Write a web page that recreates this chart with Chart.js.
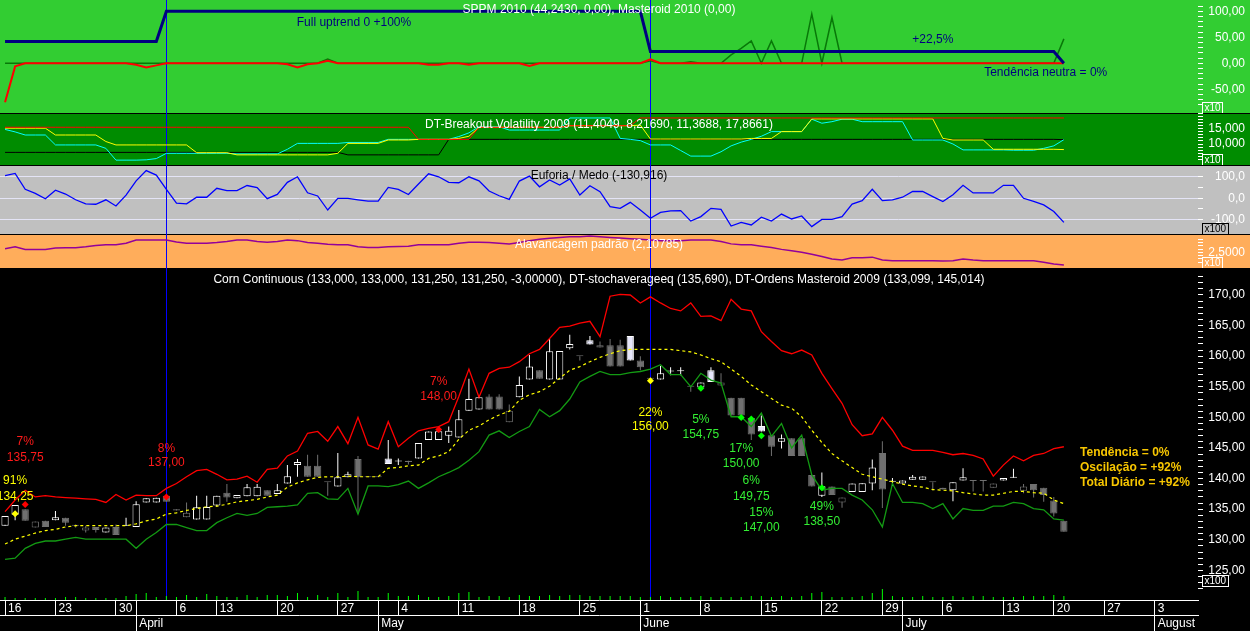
<!DOCTYPE html>
<html>
<head>
<meta charset="utf-8">
<title>Corn Continuous</title>
<script src="https://cdn.jsdelivr.net/npm/chart.js@4.4.1/dist/chart.umd.min.js"></script>
<style>
  html, body { margin: 0; padding: 0; background: #000; }
  body { width: 1250px; height: 631px; position: relative; overflow: hidden; }
  .pane { position: absolute; left: 0; width: 1250px; }
</style>
</head>
<body>
<div class="pane" style="top:0;height:113px"><canvas id="sppm" width="1250" height="113"></canvas></div>
<div class="pane" style="top:113px;height:52px"><canvas id="breakout" width="1250" height="52"></canvas></div>
<div class="pane" style="top:165px;height:69px"><canvas id="euforia" width="1250" height="69"></canvas></div>
<div class="pane" style="top:234px;height:34px"><canvas id="alav" width="1250" height="34"></canvas></div>
<div class="pane" style="top:268px;height:363px"><canvas id="price" width="1250" height="363"></canvas></div>
<script>
const FONT = '"Liberation Sans", Arial, sans-serif';

// ================= Corn Continuous daily bars =================
const open = [
  132.3, 134.1, 135.0, 132.0, 133.1, 133.2, 133.6, 132.3, 131.5, 132.1,
  131.2, 132.1, 132.3, 132.1, 136.1, 136.1, 137.2, 135.0, 133.7, 133.3,
  133.3, 135.6, 137.7, 136.8, 137.1, 137.1, 138.1, 137.5, 139.2, 142.2,
  142.1, 142.1, 139.4, 138.7, 140.2, 143.2, 140.2, 140.2, 143.3, 142.8,
  142.9, 143.3, 146.3, 146.3, 147.0, 146.7, 151.1, 151.3, 153.4, 153.4,
  149.2, 153.3, 156.2, 157.7, 156.2, 156.2, 161.3, 160.0, 162.6, 161.4,
  161.8, 161.8, 163.3, 159.3, 156.3, 156.2, 157.5, 157.55, 155.0, 154.9,
  157.7, 155.2, 153.2, 153.2, 149.9, 148.6, 147.1, 146.0, 146.6, 146.6,
  140.6, 137.2, 138.7, 136.1, 137.8, 137.8, 139.2, 144.2, 139.5, 139.2,
  139.8, 139.8, 139.4, 138.5, 138.1, 139.7, 139.6, 139.6, 138.5, 139.7,
  140.15, 138.0, 139.1, 138.5, 136.4, 133.1
];
const high = [
  133.9, 135.7, 135.0, 133.0, 133.1, 134.7, 133.6, 132.5, 132.3, 132.1,
  132.0, 132.5, 133.6, 136.3, 136.8, 136.85, 137.2, 135.0, 136.1, 137.2,
  137.2, 137.2, 139.1, 137.3, 139.1, 139.1, 138.1, 139.1, 142.2, 143.2,
  143.9, 143.9, 139.4, 144.2, 141.1, 143.7, 140.2, 140.2, 146.3, 143.3,
  142.9, 145.8, 147.7, 147.75, 148.5, 151.2, 156.3, 153.6, 153.8, 153.8,
  152.1, 156.7, 160.2, 157.7, 162.9, 160.85, 163.5, 160.0, 163.3, 162.4,
  162.8, 162.7, 163.3, 160.0, 156.3, 158.4, 158.2, 158.2, 155.0, 155.7,
  158.2, 157.2, 153.2, 153.2, 149.9, 150.3, 147.1, 147.2, 146.6, 146.6,
  140.6, 141.0, 138.7, 136.9, 139.2, 139.25, 143.1, 146.1, 140.1, 139.7,
  140.6, 140.35, 139.4, 138.5, 139.4, 141.7, 139.6, 139.6, 139.2, 140.1,
  141.6, 139.1, 139.1, 138.5, 137.0, 133.1
];
const low = [
  132.3, 133.2, 133.1, 132.0, 132.1, 133.2, 132.3, 132.0, 131.2, 131.2,
  131.2, 130.8, 132.3, 132.1, 136.1, 136.1, 136.2, 134.8, 133.7, 133.3,
  133.3, 135.4, 136.2, 136.8, 137.1, 137.1, 137.2, 137.5, 139.2, 140.3,
  140.3, 140.3, 137.2, 138.7, 140.2, 134.3, 140.2, 140.2, 142.4, 142.2,
  142.3, 143.3, 146.3, 146.3, 145.8, 146.7, 151.1, 151.3, 151.3, 151.3,
  149.2, 153.3, 156.2, 156.3, 156.2, 156.2, 161.1, 159.3, 161.9, 161.4,
  158.3, 158.3, 159.3, 157.7, 156.3, 156.2, 156.9, 156.9, 154.2, 154.9,
  155.8, 155.2, 150.3, 150.3, 146.3, 147.7, 143.7, 144.9, 143.7, 143.7,
  138.7, 137.0, 137.3, 135.25, 137.8, 137.8, 138.1, 135.2, 138.8, 139.2,
  139.8, 139.8, 138.1, 138.2, 136.3, 139.7, 137.9, 137.9, 138.5, 139.7,
  140.15, 137.6, 136.9, 136.2, 133.8, 131.3
];
const close = [
  133.9, 135.7, 133.1, 133.0, 132.1, 133.7, 132.8, 132.3, 132.0, 131.6,
  132.0, 130.8, 132.3, 135.8, 136.8, 136.85, 136.2, 134.8, 134.4, 135.3,
  135.35, 137.2, 136.9, 137.3, 138.6, 138.65, 137.2, 138.1, 140.4, 142.7,
  140.3, 140.3, 139.4, 140.2, 140.7, 140.2, 140.2, 140.2, 142.4, 142.8,
  142.7, 145.8, 147.7, 147.75, 147.8, 149.7, 153.0, 153.3, 151.3, 151.3,
  151.1, 155.3, 158.3, 156.3, 160.8, 160.85, 162.0, 160.0, 161.9, 161.8,
  158.3, 158.3, 159.3, 158.2, 156.3, 157.2, 157.5, 157.55, 155.0, 155.7,
  155.8, 155.7, 150.3, 150.3, 147.2, 147.7, 145.2, 146.6, 143.7, 143.7,
  138.7, 138.75, 137.3, 136.9, 139.2, 139.25, 141.8, 138.2, 139.5, 139.7,
  140.3, 140.35, 139.4, 138.2, 139.4, 140.2, 139.6, 139.6, 139.2, 140.1,
  140.15, 138.7, 138.1, 137.3, 134.3, 131.3
];
const volume = [
  3, 2, 2, 2, 2, 2, 3, 3, 2, 2,
  2, 2, 4, 6, 7, 3, 4, 3, 5, 3,
  6, 4, 3, 3, 5, 3, 5, 5, 4, 7,
  3, 5, 3, 7, 3, 9, 3, 3, 7, 4,
  4, 5, 3, 3, 4, 7, 8, 3, 4, 4,
  3, 5, 4, 4, 5, 4, 5, 5, 4, 4,
  4, 4, 4, 3, 3, 4, 3, 3, 3, 4,
  3, 3, 3, 3, 4, 4, 3, 4, 3, 4,
  7, 8, 3, 3, 3, 4, 7, 11, 4, 3,
  3, 4, 3, 3, 4, 3, 4, 4, 3, 3,
  3, 4, 4, 4, 5, 4
];

// DT-Ordens Masteroid bands and DT-stochaverageeq
const bandHigh = [
  134.6, 136.5, 138.1, 137.0, 137.2, 137.0, 136.9, 136.8, 136.7, 136.6,
  136.1, 137.4, 136.5, 137.3, 137.2, 137.2, 138.4, 139.2, 140.3, 141.3,
  141.5, 140.7, 139.8, 139.9, 140.4, 139.4, 141.5, 141.7, 143.7, 144.5,
  147.4, 147.7, 146.1, 148.5, 145.7, 150.0, 145.5, 144.8, 149.3, 145.2,
  146.6, 147.8, 148.2, 148.5, 149.3, 153.4, 157.9, 153.3, 157.2, 158.0,
  158.2, 159.1, 160.4, 161.1, 162.9, 164.7, 164.9, 165.4, 165.7, 163.2,
  169.8, 170.1, 170.0, 168.7, 169.7, 168.7, 167.8, 167.4, 168.7, 166.5,
  166.6, 165.8, 169.3, 167.7, 167.4, 164.0, 162.4, 160.9, 160.4, 161.0,
  160.2, 157.2, 154.7, 152.3, 148.8, 147.0, 147.3, 150.0, 147.9, 145.3,
  144.6, 144.6, 144.6, 144.3, 143.9, 144.1, 143.8, 143.2, 140.4, 142.2,
  143.7, 142.9, 143.8, 144.1, 144.9, 145.2
];
const bandLow = [
  126.8, 127.0, 128.6, 129.4, 129.8, 129.8, 130.1, 130.4, 130.1, 130.1,
  130.1, 130.1, 130.1, 128.6, 130.1, 131.2, 132.5, 132.5, 132.0, 131.5,
  131.5, 132.8, 133.6, 134.3, 134.0, 134.3, 135.3, 135.4, 135.5, 135.7,
  137.6, 137.7, 136.7, 136.6, 138.4, 134.2, 138.8, 138.8, 138.7, 139.0,
  139.6, 138.4, 139.3, 140.3, 141.0, 141.8, 143.0, 144.4, 147.1, 147.8,
  146.7, 147.7, 148.5, 151.3, 150.1, 151.1, 153.0, 155.8, 156.7, 157.5,
  157.0, 157.0, 157.3, 157.5, 157.9, 158.6, 157.0, 157.0, 155.0, 157.2,
  156.1, 155.6, 150.1, 150.1, 148.5, 150.7, 146.9, 149.0, 145.0, 147.1,
  140.6, 138.1, 138.4, 138.4, 137.3, 136.5, 134.9, 132.1, 139.2, 136.1,
  136.1, 135.9, 135.1, 135.9, 133.4, 135.1, 134.8, 134.8, 135.5, 135.5,
  136.1, 135.9, 135.1, 134.9, 133.4, 133.2
];
const stochAvg = [
  129.3, 130.1, 130.6, 131.1, 131.5, 131.7, 132.1, 132.3, 132.3, 132.3,
  132.3, 132.3, 132.3, 132.6, 133.1, 133.4, 134.2, 134.4, 134.8, 135.1,
  135.4, 135.5, 135.8, 136.2, 136.4, 136.6, 137.0, 137.3, 138.6, 139.3,
  139.8, 140.2, 140.3, 140.3, 140.4, 140.3, 140.3, 140.3, 141.7, 141.8,
  142.1, 142.2, 143.3, 143.7, 144.4, 146.4, 147.9, 148.6, 149.6, 150.4,
  151.0, 152.8, 153.7, 154.2, 155.1, 156.4, 157.7, 158.3, 159.1, 159.8,
  160.4, 160.9, 161.1, 161.1, 161.1, 161.1, 161.1, 160.9, 160.7, 160.2,
  159.6, 159.1, 157.9, 156.7, 155.3, 154.2, 153.1, 152.0, 151.5, 150.1,
  147.9, 145.9, 144.1, 142.9, 141.8, 140.7, 140.3, 139.9, 139.5, 139.1,
  138.8, 138.6, 138.2, 138.1, 138.0, 137.7, 137.5, 137.3, 137.3, 137.6,
  137.9, 137.9, 137.7, 137.6, 136.5, 135.9
];

// order signals
const sigBar = [1, 2, 16, 43, 64, 69, 73, 74, 75, 81];
const sigPrice = [134.25, 135.75, 137.00, 148.00, 156.00, 154.75, 150.00, 149.75, 147.00, 138.50];
const sigPct = ['91%', '7%', '8%', '7%', '22%', '5%', '17%', '6%', '15%', '49%'];
const sigType = ['y', 'r', 'r', 'r', 'y', 'g', 'g', 'g', 'g', 'g'];
const signalLines = [16, 64];

// ================= SPPM 2010 / Masteroid 2010 =================
const sppm = [
  42, 42, 42, 42, 42, 42, 42, 42, 42, 42,
  42, 42, 42, 42, 42, 42, 100, 100, 100, 100,
  100, 100, 100, 100, 100, 100, 100, 100, 100, 100,
  100, 100, 100, 100, 100, 100, 100, 100, 100, 100,
  100, 100, 100, 100, 100, 100, 100, 100, 100, 100,
  100, 100, 100, 100, 100, 100, 100, 100, 100, 100,
  100, 100, 100, 100, 22.5, 22.5, 22.5, 22.5, 22.5, 22.5,
  22.5, 22.5, 22.5, 22.5, 22.5, 22.5, 22.5, 22.5, 22.5, 22.5,
  22.5, 22.5, 22.5, 22.5, 22.5, 22.5, 22.5, 22.5, 22.5, 22.5,
  22.5, 22.5, 22.5, 22.5, 22.5, 22.5, 22.5, 22.5, 22.5, 22.5,
  22.5, 22.5, 22.5, 22.5, 22.5, 0
];
const mastRed = [
  -75, -6, 0, 0, 0, 0, 0, 0, 0, 0,
  0, 0, 0, -3, -8, -4, 0, 0, 0, 0,
  0, 0, 0, 0, 0, 0, 0, 0, -2, -8,
  -2, 0, 5, 0, 0, 0, 0, 0, 0, 0,
  0, 0, -3, -3, 0, 0, -3, 0, 0, 0,
  0, 0, -5, 0, 0, 0, 0, 0, 0, 0,
  0, 0, 0, 0, 7.6, 0, 0, 0, 0, 0,
  0, 0, 0, 0, 0, 0, 0, 0, 0, 0,
  0, 0, 0, 0, 0, 0, 0, 0, 0, 0,
  0, 0, 0, 0, 0, 0, 0, 0, 0, 0,
  0, 0, 0, 0, 0, 0
];
const mastGreen = [
  0, 0, 0, 0, 0, 0, 0, 0, 0, 0,
  0, 0, 0, 0, 0, 0, 0, 0, 0, 0,
  0, 0, 0, 0, 0, 0, 0, 0, 0, 0,
  0, 0, 8, 0, 0, 0, 0, 0, 0, 0,
  0, 0, 0, 0, 0, 0, 0, 0, 0, 0,
  0, 0, 0, 0, 0, 0, 0, 0, 0, 0,
  0, 0, 0, 0, 5, 0, 0, 0, 3, 0,
  0, 0, 16, 28.5, 43, 0, 43, 0, 0, 0,
  95, 0, 88, 0, 0, 0, 0, 0, 0, 0,
  0, 0, 0, 0, 0, 0, 0, 0, 0, 0,
  0, 0, 0, 0, 0, 47
];

// ================= DT-Breakout Volatility 2009 =================
const bvRed = [
  15.4, 15.4, 15.4, 15.4, 15.4, 15.4, 15.4, 15.4, 15.4, 15.4,
  15.4, 15.4, 15.4, 15.4, 15.4, 15.4, 15.4, 15.4, 15.4, 15.4,
  15.4, 15.4, 15.4, 15.4, 15.4, 15.4, 15.4, 15.4, 15.4, 15.4,
  15.4, 15.4, 15.4, 15.4, 15.4, 15.4, 15.4, 15.4, 15.4, 15.4,
  15.4, 11.5, 11.5, 11.5, 11.5, 11.5, 11.5, 15.4, 15.4, 15.4,
  15.4, 15.4, 15.4, 15.4, 15.4, 15.4, 15.9, 15.9, 15.9, 15.9,
  15.9, 15.9, 15.9, 18.4, 18.4, 18.4, 18.4, 18.4, 18.4, 18.4,
  18.4, 18.4, 18.4, 18.4, 18.4, 18.4, 18.4, 18.4, 18.4, 18.4,
  18.4, 18.4, 18.4, 18.4, 18.4, 18.4, 18.4, 18.4, 18.4, 18.4,
  18.4, 18.4, 18.4, 18.4, 18.4, 18.4, 18.4, 18.4, 18.4, 18.4,
  18.4, 18.4, 18.4, 18.4, 18.4, 18.4
];
const bvBlack = [
  7.3, 7.3, 7.3, 7.3, 7.3, 7.3, 7.3, 7.3, 7.3, 7.3,
  7.3, 7.3, 7.3, 7.3, 7.3, 7.3, 7.3, 7.3, 7.3, 7.3,
  7.3, 7.3, 7.3, 7.3, 7.3, 7.3, 7.3, 7.3, 7.3, 7.3,
  7.3, 7.3, 7.3, 7.3, 6.5, 6.5, 6.5, 6.5, 6.5, 6.5,
  6.5, 6.5, 6.5, 6.5, 11.5, 11.5, 11.5, 11.5, 11.5, 11.5,
  11.5, 11.5, 11.5, 11.5, 11.5, 11.5, 11.5, 11.5, 11.5, 11.5,
  11.5, 11.5, 11.5, 11.5, 11.5, 11.5, 11.5, 11.5, 11.5, 11.5,
  11.5, 11.5, 11.5, 11.5, 11.5, 11.5, 11.5, 11.5, 11.5, 11.5,
  11.5, 11.5, 11.5, 11.5, 11.5, 11.5, 11.5, 11.5, 11.5, 11.5,
  11.5, 11.5, 11.5, 11.5, 11.5, 11.5, 11.5, 11.5, 11.5, 11.5,
  11.5, 11.5, 11.5, 11.5, 11.5, 11.4
];
const bvYellow = [
  15.1, 15.1, 15.1, 15.1, 15.1, 12.9, 12.9, 12.9, 12.9, 12.9,
  10.8, 9.7, 9.7, 9.7, 9.7, 9.7, 9.7, 9.7, 9.7, 7.2,
  7.2, 7.2, 7.2, 6.5, 6.5, 6.5, 6.5, 6.5, 6.5, 6.5,
  6.5, 6.5, 6.5, 7.0, 10.2, 10.2, 10.2, 10.2, 11.3, 11.3,
  11.3, 11.5, 11.5, 11.5, 11.5, 11.8, 12.5, 15.4, 15.4, 15.4,
  15.4, 15.4, 15.4, 15.4, 15.4, 15.4, 15.9, 15.9, 15.9, 15.9,
  15.9, 15.9, 15.9, 16.1, 11.6, 11.6, 11.6, 11.6, 11.6, 11.6,
  11.6, 11.6, 11.6, 11.6, 11.8, 11.8, 11.8, 14.0, 14.0, 14.0,
  18.1, 18.1, 18.1, 18.1, 18.1, 18.1, 18.1, 18.1, 18.1, 18.1,
  18.1, 18.1, 18.1, 11.8, 11.3, 11.3, 11.3, 11.3, 8.3, 8.3,
  8.3, 8.3, 8.3, 8.3, 8.3, 8.2
];
const bvCyan = [
  14.7, 13.9, 12.9, 12.9, 12.9, 9.7, 9.7, 9.7, 9.7, 9.7,
  8.6, 4.8, 4.8, 4.8, 4.9, 5.3, 7.0, 7.0, 7.0, 7.0,
  7.0, 7.0, 7.0, 6.8, 6.8, 6.8, 6.8, 6.8, 8.3, 10.2,
  10.2, 10.2, 10.2, 10.2, 10.5, 10.5, 10.5, 10.5, 11.5, 11.5,
  11.5, 11.5, 11.5, 11.5, 11.5, 12.4, 13.6, 15.6, 15.6, 15.6,
  14.5, 14.5, 14.5, 14.5, 14.5, 14.5, 18.4, 18.4, 18.4, 18.4,
  18.4, 11.8, 11.5, 11.1, 9.7, 9.7, 9.7, 7.9, 6.1, 6.1,
  6.1, 7.5, 9.4, 10.6, 11.5, 12.5, 14.0, 14.0, 14.0, 14.0,
  18.0, 16.7, 17.2, 18.0, 18.0, 17.2, 17.2, 17.2, 17.2, 17.2,
  11.3, 11.3, 11.3, 11.3, 10.0, 8.1, 8.1, 8.1, 8.1, 8.1,
  8.0, 8.0, 8.0, 8.6, 9.4, 11.4
];

// ================= Euforia / Medo =================
const euforia = [
  106, 117, 42, 23, -2, 38, 20, -7, -26, -28,
  -7, -36, 15, 82, 130, 109, 42, -23, -26, 5,
  5, 47, 36, 36, 60, 50, -2, 18, 75, 101,
  26, 11, -55, 0, 0, -7, -13, -13, 51, 42,
  18, 67, 115, 101, 75, 73, 101, 82, 34, 12,
  -5, 81, 104, 54, 86, 62, 91, 15, 59, 31,
  -39, -47, -19, -55, -94, -66, -59, -58, -107, -86,
  -47, -52, -130, -113, -125, -89, -107, -74, -97, -83,
  -133, -99, -99, -86, -27, -11, 42, -11, -7, 5,
  32, 32, 8, -15, 17, 61, 25, 25, 25, 61,
  61, 0, -15, -31, -62, -113
];

// ================= Alavancagem padrão =================
const alav = [
  2.61, 2.67, 2.59, 2.59, 2.59, 2.63, 2.64, 2.64, 2.67, 2.71,
  2.73, 2.73, 2.78, 2.88, 2.88, 2.88, 2.88, 2.82, 2.78, 2.78,
  2.78, 2.80, 2.83, 2.88, 2.88, 2.83, 2.81, 2.83, 2.88, 2.86,
  2.80, 2.78, 2.75, 2.73, 2.73, 2.67, 2.65, 2.65, 2.67, 2.68,
  2.69, 2.73, 2.73, 2.73, 2.73, 2.78, 2.81, 2.81, 2.80, 2.78,
  2.76, 2.80, 2.86, 2.90, 2.93, 2.96, 2.98, 2.98, 3.00, 2.98,
  2.96, 2.94, 2.92, 2.90, 2.88, 2.86, 2.86, 2.86, 2.88, 2.88,
  2.88, 2.83, 2.76, 2.73, 2.73, 2.69, 2.65, 2.59, 2.55, 2.50,
  2.44, 2.37, 2.29, 2.26, 2.33, 2.33, 2.35, 2.26, 2.24, 2.24,
  2.24, 2.24, 2.24, 2.23, 2.24, 2.29, 2.26, 2.24, 2.24, 2.24,
  2.24, 2.24, 2.24, 2.19, 2.14, 2.11
];

// ================= axis labels =================
const dayBars = [0, 5, 11, 17, 21, 27, 33, 39, 45, 51, 57, 63, 69, 75, 81, 87, 93, 99, 104, 109, 114];
const dayLabels = ['16', '23', '30', '6', '13', '20', '27', '4', '11', '18', '25', '1', '8', '15', '22', '29', '6', '13', '20', '27', '3'];
const monthBars = [13, 37, 63, 89, 114];
const monthLabels = ['April', 'May', 'June', 'July', 'August'];
const sppmTicks = [100, 50, 0, -50];
const bvTicks = [15, 10];
const euforiaTicks = [100, 0, -100];
const alavTicks = [2.5];
const priceTicks = [170, 165, 160, 155, 150, 145, 140, 135, 130, 125];

// ================= helpers =================
const X_MIN = -0.5, X_MAX = 118.3;
const fmt = (v, d) => v.toFixed(d).replace('.', ',');
const near = (a, b) => Math.abs(a - b) < 1e-6;
const pts = arr => arr.map((v, i) => ({ x: i, y: v }));
const noPad = s => { s.paddingTop = 0; s.paddingBottom = 0; s.paddingLeft = 0; s.paddingRight = 0; };

Chart.defaults.font.family = FONT;
Chart.defaults.font.size = 12;
Chart.defaults.animation = false;
Chart.defaults.responsive = false;
Chart.defaults.events = [];
Chart.defaults.layout.autoPadding = false;
Chart.defaults.layout.padding = { top: 0, left: 0, bottom: 0, right: 5 };
Chart.defaults.plugins.legend.display = false;
Chart.defaults.plugins.tooltip.enabled = false;
Chart.defaults.elements.point.radius = 0;
Chart.defaults.elements.line.tension = 0;

function lineDs(data, color, width, extra) {
  return Object.assign({ type: 'line', data: pts(data), borderColor: color, borderWidth: width, pointRadius: 0, fill: false }, extra || {});
}

function hiddenX() {
  return { type: 'linear', min: X_MIN, max: X_MAX, display: false };
}

function yAxis(min, max, step, labels, dec, gridColor) {
  return {
    position: 'right', min: min, max: max,
    afterFit: s => { s.width = 47; noPad(s); },
    afterBuildTicks: s => { s.ticks = s.ticks.filter(t => near(t.value / step, Math.round(t.value / step))); },
    ticks: {
      stepSize: step, autoSkip: false, color: '#fff', padding: 1, crossAlign: 'far',
      callback: v => labels.some(l => near(l, v)) ? fmt(v, dec) : ''
    },
    grid: {
      drawOnChartArea: !!gridColor, drawTicks: true, tickLength: 5, tickColor: '#fff', tickWidth: 1,
      color: c => (gridColor && c.tick && labels.some(l => near(l, c.tick.value))) ? gridColor : 'rgba(0,0,0,0)'
    },
    border: { display: false }
  };
}

// ================= plugins =================
const panelBg = {
  id: 'panelBg',
  beforeDraw(chart, args, o) {
    const { ctx, width, height } = chart;
    ctx.save();
    ctx.fillStyle = o.color;
    ctx.fillRect(0, 0, width, height);
    if (o.topLine) { ctx.fillStyle = '#000'; ctx.fillRect(0, 0, width, 1); }
    ctx.restore();
  }
};

const markerLines = {
  id: 'markerLines',
  beforeDatasetsDraw(chart) {
    const { ctx, chartArea: a, scales: { x } } = chart;
    ctx.save();
    ctx.strokeStyle = '#0000ff';
    ctx.lineWidth = 1;
    signalLines.forEach(b => {
      const px = Math.round(x.getPixelForValue(b)) + 0.5;
      ctx.beginPath(); ctx.moveTo(px, a.top); ctx.lineTo(px, a.bottom); ctx.stroke();
    });
    ctx.restore();
  }
};

const panelText = {
  id: 'panelText',
  afterDraw(chart, args, o) {
    const { ctx, chartArea: a, scales } = chart;
    ctx.save();
    ctx.textBaseline = 'middle';
    ctx.font = '12px ' + FONT;
    ctx.textAlign = 'center';
    ctx.fillStyle = o.titleColor;
    ctx.fillText(o.title, (a.left + a.right) / 2, a.top + o.titleY);
    (o.notes || []).forEach(n => {
      ctx.font = (n.bold ? 'bold ' : '') + '12px ' + FONT;
      ctx.textAlign = n.align || 'center';
      ctx.fillStyle = n.color;
      ctx.fillText(n.text, scales.x.getPixelForValue(n.bar), scales.y.getPixelForValue(n.value));
    });
    // multiplier box at the foot of the value axis
    ctx.font = '10px ' + FONT;
    const w = Math.round(ctx.measureText(o.mult).width) + 4, h = 11;
    const bx = a.right + 4, by = a.bottom - o.multUp - h;
    ctx.strokeStyle = o.multColor;
    ctx.fillStyle = o.multColor;
    ctx.lineWidth = 1;
    ctx.strokeRect(bx + 0.5, by + 0.5, w, h);
    ctx.textAlign = 'left';
    ctx.fillText(o.mult, bx + 2.5, by + h / 2 + 1);
    ctx.restore();
  }
};

const sigColor = { y: '#ffff00', r: '#ff0000', g: '#00ff00' };
const sigTextColor = { y: '#ffff00', r: '#ff1a1a', g: '#33ee33' };
const labelShift = [[-33, -17], [-63, -47], [-48, -34], [-48, -33], [32, 46], [31, 46], [31, 46], [62, 78], [77, 92], [19, 34]];

const signalText = {
  id: 'signalText',
  afterDatasetsDraw(chart) {
    const { ctx, scales: { x, y } } = chart;
    ctx.save();
    ctx.font = '12px ' + FONT;
    ctx.textAlign = 'center';
    ctx.textBaseline = 'middle';
    sigBar.forEach((b, k) => {
      const px = x.getPixelForValue(b), py = y.getPixelForValue(sigPrice[k]);
      ctx.fillStyle = sigTextColor[sigType[k]];
      ctx.fillText(sigPct[k], px, py + labelShift[k][0]);
      ctx.fillText(fmt(sigPrice[k], 2), px, py + labelShift[k][1]);
    });
    ctx.restore();
  }
};

// ================= SPPM panel =================
new Chart(document.getElementById('sppm'), {
  type: 'line',
  data: { datasets: [
    lineDs(sppm, '#000080', 3, { order: 0 }),
    lineDs(mastRed, '#ff0000', 2, { order: 1 }),
    lineDs(mastGreen, '#087808', 1.5, { order: 2 })
  ] },
  options: {
    scales: { x: hiddenX(), y: yAxis(-95.6, 121.7, 10, sppmTicks, 2) },
    plugins: {
      panelBg: { color: '#32cd32', topLine: false },
      panelText: {
        title: 'SPPM 2010 (44,2430, 0,00), Masteroid 2010 (0,00)', titleColor: '#fff', titleY: 10,
        mult: 'x10', multColor: '#fff', multUp: 0,
        notes: [
          { text: 'Full uptrend 0 +100%', bar: 34.6, value: 78, color: '#000080' },
          { text: '+22,5%', bar: 92, value: 44.8, color: '#000080' },
          { text: 'Tendência neutra = 0%', bar: 103.2, value: -18.7, color: '#000080' }
        ]
      }
    }
  },
  plugins: [panelBg, markerLines, panelText]
});

// ================= Breakout volatility panel =================
new Chart(document.getElementById('breakout'), {
  type: 'line',
  data: { datasets: [
    lineDs(bvRed, '#ff0000', 1, { order: 0 }),
    lineDs(bvYellow, '#ffff00', 1, { order: 1 }),
    lineDs(bvCyan, '#00ffff', 1, { order: 2 }),
    lineDs(bvBlack, '#000000', 1, { order: 3 })
  ] },
  options: {
    scales: { x: hiddenX(), y: yAxis(3.23, 20.0, 1, bvTicks, 3) },
    plugins: {
      panelBg: { color: '#008c00', topLine: true },
      panelText: {
        title: 'DT-Breakout Volatility 2009 (11,4049, 8,21690, 11,3688, 17,8661)', titleColor: '#fff', titleY: 11.7,
        mult: 'x10', multColor: '#fff', multUp: 0
      }
    }
  },
  plugins: [panelBg, markerLines, panelText]
});

// ================= Euforia / Medo panel =================
new Chart(document.getElementById('euforia'), {
  type: 'line',
  data: { datasets: [ lineDs(euforia, '#0000ff', 1.3) ] },
  options: {
    scales: { x: hiddenX(), y: yAxis(-167.6, 156.3, 50, euforiaTicks, 1, '#e4e4f6') },
    plugins: {
      panelBg: { color: '#c0c0c0', topLine: true },
      panelText: {
        title: 'Euforia / Medo (-130,916)', titleColor: '#000', titleY: 10.7,
        mult: 'x100', multColor: '#000', multUp: 0
      }
    }
  },
  plugins: [panelBg, markerLines, panelText]
});

// ================= Alavancagem panel =================
new Chart(document.getElementById('alav'), {
  type: 'line',
  data: { datasets: [ lineDs(alav, '#93009a', 1.5) ] },
  options: {
    scales: { x: hiddenX(), y: yAxis(2.015, 3.065, 0.1, alavTicks, 4) },
    plugins: {
      panelBg: { color: '#ffad5b', topLine: true },
      panelText: {
        title: 'Alavancagem padrão (2,10785)', titleColor: '#fff', titleY: 11,
        mult: 'x10', multColor: '#fff', multUp: 0
      }
    }
  },
  plugins: [panelBg, markerLines, panelText]
});

// ================= Price panel =================
const idx = close.map((_, i) => i);
const upDay = idx.map(i => i === 0 || close[i] > close[i - 1]);
const candleCol = idx.map(i => upDay[i] ? '#ffffff' : '#707070');
const bodyFill = idx.map(i => close[i] > open[i] ? '#000000' : (upDay[i] ? '#e6e6fa' : '#707070'));
const sepBars = [...new Set(dayBars.concat(monthBars))].sort((a, b) => a - b);

new Chart(document.getElementById('price'), {
  type: 'line',
  data: { datasets: [
    { type: 'line', data: sigBar.map((b, k) => ({ x: b, y: sigPrice[k] })), showLine: false,
      pointStyle: 'rectRot', pointRadius: 3.5, pointBorderWidth: 0,
      pointBackgroundColor: sigType.map(t => sigColor[t]), pointBorderColor: sigType.map(t => sigColor[t]), order: 0 },
    lineDs(stochAvg, '#ffff00', 1.2, { borderDash: [3, 3], order: 1 }),
    lineDs(bandLow, '#139a13', 1.3, { order: 2 }),
    lineDs(bandHigh, '#ff0000', 1.3, { order: 3 }),
    { type: 'bar', data: idx.map(i => ({ x: i, y: [Math.min(open[i], close[i]), Math.max(open[i], close[i])] })),
      backgroundColor: bodyFill, borderColor: candleCol, borderWidth: 1, borderSkipped: false,
      grouped: false, barPercentage: 0.72, categoryPercentage: 1, minBarLength: 1, order: 4 },
    { type: 'bar', data: idx.map(i => ({ x: i, y: [low[i], high[i]] })),
      backgroundColor: candleCol, borderWidth: 0, grouped: false, maxBarThickness: 1, order: 5 },
    { type: 'bar', yAxisID: 'yv', data: pts(volume), backgroundColor: '#00ff00', borderWidth: 0,
      grouped: false, maxBarThickness: 1, order: 6 }
  ] },
  options: {
    scales: {
      x: {
        type: 'linear', min: X_MIN, max: X_MAX, offset: false, position: 'bottom', weight: 0,
        afterBuildTicks: s => { s.ticks = sepBars.map(v => ({ value: v })); },
        afterFit: s => { s.height = 15; noPad(s); },
        ticks: {
          autoSkip: false, maxRotation: 0, minRotation: 0, align: 'start', labelOffset: 3, padding: -14, color: '#fff',
          callback: v => { const k = dayBars.indexOf(v); return k < 0 ? '' : dayLabels[k]; }
        },
        grid: { drawOnChartArea: false, drawTicks: true, tickLength: 15, tickColor: '#fff', offset: false },
        border: { display: true, color: '#fff' }
      },
      x2: {
        type: 'linear', axis: 'x', min: X_MIN, max: X_MAX, offset: false, position: 'bottom', weight: 1,
        afterBuildTicks: s => { s.ticks = monthBars.map(v => ({ value: v })); },
        afterFit: s => { s.height = 16; noPad(s); },
        ticks: {
          autoSkip: false, maxRotation: 0, minRotation: 0, align: 'start', labelOffset: 3, padding: -15, color: '#fff',
          callback: v => { const k = monthBars.indexOf(v); return k < 0 ? '' : monthLabels[k]; }
        },
        grid: { drawOnChartArea: false, drawTicks: true, tickLength: 16, tickColor: '#fff', offset: false },
        border: { display: true, color: '#fff' }
      },
      y: yAxis(120.16, 174.41, 1, priceTicks, 2),
      yv: { display: false, min: 0, max: 330 }
    },
    plugins: {
      panelBg: { color: '#000', topLine: false },
      panelText: {
        title: 'Corn Continuous (133,000, 133,000, 131,250, 131,250, -3,00000), DT-stochaverageeq (135,690), DT-Ordens Masteroid 2009 (133,099, 145,014)',
        titleColor: '#fff', titleY: 12,
        mult: 'x100', multColor: '#fff', multUp: 14,
        notes: [
          { text: 'Tendência = 0%', bar: 106.6, value: 144.23, color: '#f7c600', bold: true, align: 'left' },
          { text: 'Oscilação = +92%', bar: 106.6, value: 141.78, color: '#f7c600', bold: true, align: 'left' },
          { text: 'Total Diário = +92%', bar: 106.6, value: 139.39, color: '#f7c600', bold: true, align: 'left' }
        ]
      }
    }
  },
  plugins: [panelBg, markerLines, panelText, signalText]
});
</script>
</body>
</html>
